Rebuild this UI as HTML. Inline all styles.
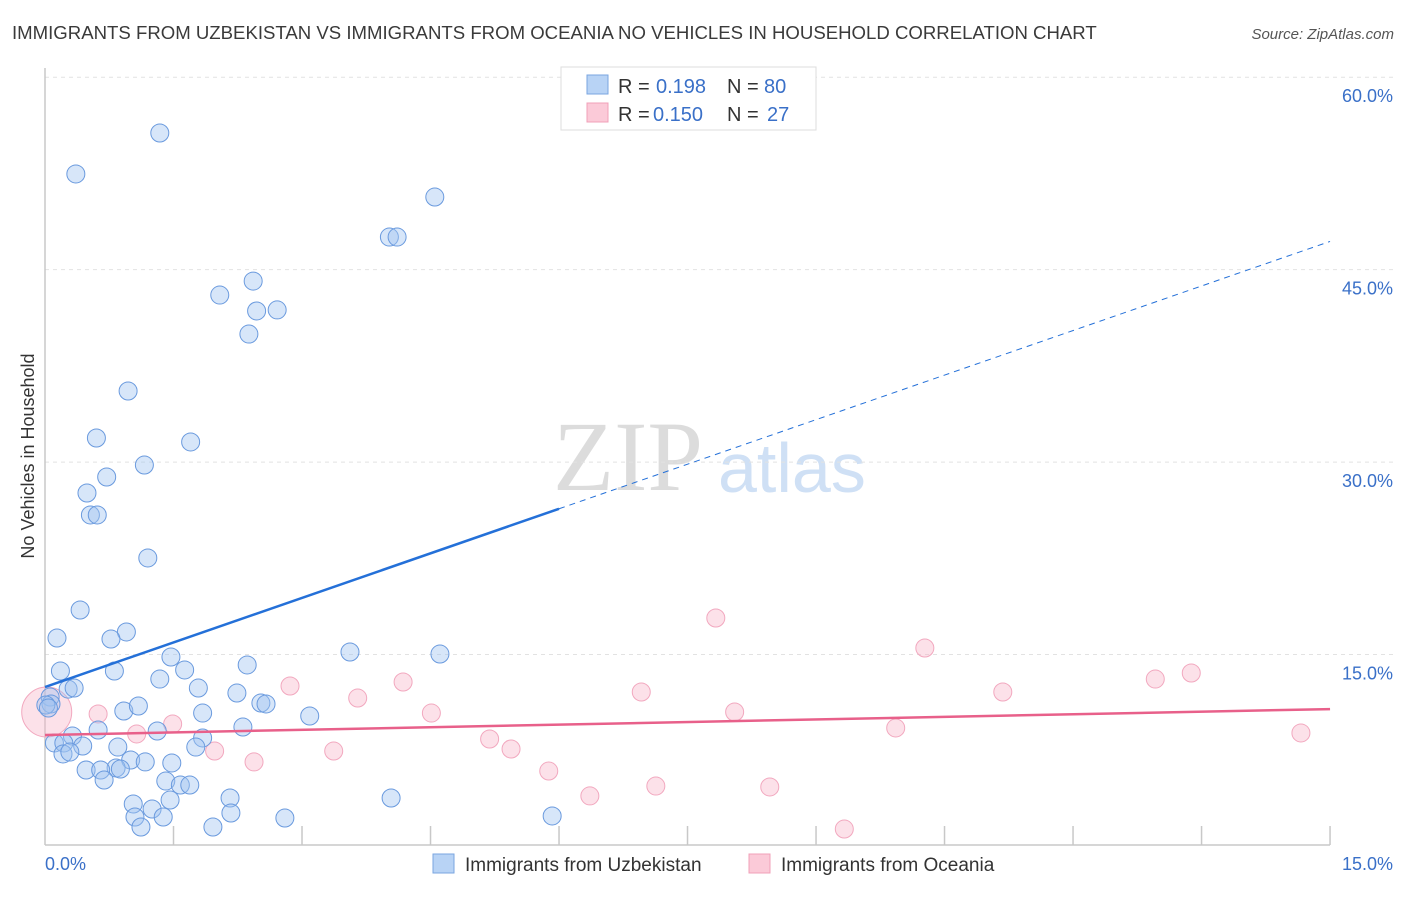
<!DOCTYPE html>
<html><head><meta charset="utf-8"><style>
body{margin:0;background:#fff;font-family:"Liberation Sans",sans-serif}
</style></head><body>
<svg width="1406" height="892" viewBox="0 0 1406 892" font-family="Liberation Sans, sans-serif">
<text x="12" y="39" font-size="18.6" fill="#3a3a3a">IMMIGRANTS FROM UZBEKISTAN VS IMMIGRANTS FROM OCEANIA NO VEHICLES IN HOUSEHOLD CORRELATION CHART</text>
<text x="1394" y="39" font-size="15" fill="#555" font-style="italic" text-anchor="end">Source: ZipAtlas.com</text>
<g>
<text x="553" y="490" font-size="100" fill="#dcdcdc" style="font-family:'Liberation Serif',serif">ZIP</text>
<text x="718" y="492" font-size="70" fill="#cfe0f5">atlas</text>
</g>
<g id="grid"></g>
<g id="axes"></g>
<g id="marks"></g>
<text transform="translate(34,456) rotate(-90)" font-size="18" fill="#333" text-anchor="middle">No Vehicles in Household</text>
<g>
<rect x="561" y="67" width="255" height="63" fill="#fff" stroke="#ddd"/>
<rect x="587" y="75" width="21" height="19" fill="#b8d3f5" stroke="#7aa6e0"/>
<rect x="587" y="103" width="21" height="19" fill="#fbcad8" stroke="#f0a0b8"/>
<text y="93" font-size="20" fill="#333"><tspan x="618">R =</tspan><tspan x="656" fill="#3a70c8">0.198</tspan><tspan x="727">N =</tspan><tspan x="764" fill="#3a70c8">80</tspan></text>
<text y="121" font-size="20" fill="#333"><tspan x="618">R =</tspan><tspan x="653" fill="#3a70c8">0.150</tspan><tspan x="727">N =</tspan><tspan x="767" fill="#3a70c8">27</tspan></text>
</g>
<g>
<rect x="433" y="854" width="21" height="19" fill="#b8d3f5" stroke="#7aa6e0"/>
<text x="465" y="871" font-size="19" fill="#333">Immigrants from Uzbekistan</text>
<rect x="749" y="854" width="21" height="19" fill="#fbcad8" stroke="#f0a0b8"/>
<text x="781" y="871" font-size="19" fill="#333">Immigrants from Oceania</text>
</g>
</svg>
<script>
const blueX=[1.34,0.36,4.55,4.02,4.11,2.43,2.04,2.47,2.71,2.38,0.97,0.60,1.70,1.16,0.72,0.49,0.53,0.61,1.20,0.41,0.14,0.95,0.77,0.18,0.81,1.47,2.36,3.56,4.61,1.63,1.34,0.27,0.34,1.79,2.24,0.06,0.07,0.92,1.09,2.52,2.58,1.84,3.09,1.31,2.31,0.62,0.32,1.84,0.11,0.22,0.44,0.85,1.76,0.21,0.29,1.00,1.17,1.48,0.48,0.83,0.88,0.65,0.69,1.41,1.58,1.69,1.03,1.25,1.46,2.16,4.04,1.05,1.38,2.17,1.12,1.96,2.80,5.92,0.01,0.04];
const blueY=[55.65,52.46,50.66,47.54,47.54,44.11,43.02,41.78,41.86,39.98,35.54,31.88,31.57,29.77,28.84,27.59,25.88,25.88,22.53,18.47,16.29,16.76,16.21,13.72,13.72,14.81,14.19,15.20,15.04,13.80,13.09,12.31,12.39,12.39,12.00,11.69,11.15,10.60,10.99,11.22,11.15,10.44,10.21,9.04,9.35,9.12,8.65,8.50,8.11,8.11,7.87,7.79,7.79,7.25,7.40,6.78,6.63,6.55,6.00,6.16,6.08,6.00,5.22,5.14,4.83,4.83,3.35,2.96,3.66,3.82,3.82,2.34,2.34,2.65,1.56,1.56,2.26,2.42,11.07,10.83];
const pinkX=[0.02,0.62,1.07,1.49,1.98,2.44,2.86,3.37,3.65,4.18,4.51,5.19,5.44,5.88,6.36,6.96,7.13,7.83,8.05,8.46,9.33,9.93,10.27,11.18,12.96,13.38,14.66];
const pinkY=[10.52,10.37,8.81,9.59,7.48,6.63,12.55,7.48,11.61,12.86,10.44,8.42,7.64,5.92,3.98,12.08,4.75,17.85,10.52,4.68,1.40,9.28,15.51,12.08,13.09,13.56,8.89];
const pinkR=[25,9,9,9,9,9,9,9,9,9,9,9,9,9,9,9,9,9,9,9,9,9,9,9,9,9,9];
const yTicks=[15,30,45,60];
const yTickLabels=["15.0%","30.0%","45.0%","60.0%"];
const xTicks=[0,1.5,3,4.5,6,7.5,9,10.5,12,13.5,15];
const blueTrend=[12.47,47.2];
const blueSolidEnd=6.0;
const pinkTrend=[8.73,10.75];
const NS="http://www.w3.org/2000/svg";
const sx=v=>45+v*85.67, sy=v=>847-v*12.83;
function mk(tag,attrs,parent){const e=document.createElementNS(NS,tag);for(const k in attrs)e.setAttribute(k,attrs[k]);document.getElementById(parent).appendChild(e);return e;}
yTicks.forEach((t,i)=>{
 const l=mk('line',{x1:45,x2:1394,y1:sy(t),y2:sy(t),stroke:'#e2e2e2','stroke-dasharray':'4,4'},'grid');
 
 
 const tx=mk('text',{x:1393,y:sy(t)+25,'font-size':18,fill:'#3a70c8','text-anchor':'end'},'axes');
 tx.textContent=yTickLabels[i];
 
 
});
const ax=mk('line',{x1:45,x2:45,y1:68,y2:845,stroke:'#c8c8c8','stroke-width':1.5},'axes');


const bx=mk('line',{x1:45,x2:1330,y1:845,y2:845,stroke:'#c8c8c8','stroke-width':1.5},'axes');


xTicks.forEach(t=>{if(t===0)return;
 const l=mk('line',{x1:sx(t),x2:sx(t),y1:826,y2:845,stroke:'#c8c8c8','stroke-width':1.5},'axes');
 
 
});
const xl0=mk('text',{x:45,y:870,'font-size':18,fill:'#3a70c8'},'axes');xl0.textContent='0.0%';


const xl1=mk('text',{x:1393,y:870,'font-size':18,fill:'#3a70c8','text-anchor':'end'},'axes');xl1.textContent='15.0%';


pinkX.forEach((v,i)=>{
 const c=mk('circle',{cx:sx(v),cy:sy(pinkY[i]),r:pinkR[i],fill:'rgba(248,180,200,0.4)',stroke:'#f2a8bf','stroke-width':1},'marks');
 
 
});
blueX.forEach((v,i)=>{
 const c=mk('circle',{cx:sx(v),cy:sy(blueY[i]),r:9,fill:'rgba(160,195,240,0.42)',stroke:'#6a9ade','stroke-width':1},'marks');
 
 
});
const bAt=x=>blueTrend[0]+(blueTrend[1]-blueTrend[0])*x/15;
const b1=mk('line',{x1:sx(0),y1:sy(bAt(0)),x2:sx(blueSolidEnd),y2:sy(bAt(blueSolidEnd)),stroke:'#2470d8','stroke-width':2.5},'marks');


const b2=mk('line',{x1:sx(blueSolidEnd),y1:sy(bAt(blueSolidEnd)),x2:sx(15),y2:sy(bAt(15)),stroke:'#2470d8','stroke-width':1,'stroke-dasharray':'6,5'},'marks');


const p1=mk('line',{x1:sx(0),y1:sy(pinkTrend[0]),x2:sx(15),y2:sy(pinkTrend[1]),stroke:'#e8608a','stroke-width':2.5},'marks');


</script>
</body></html>
